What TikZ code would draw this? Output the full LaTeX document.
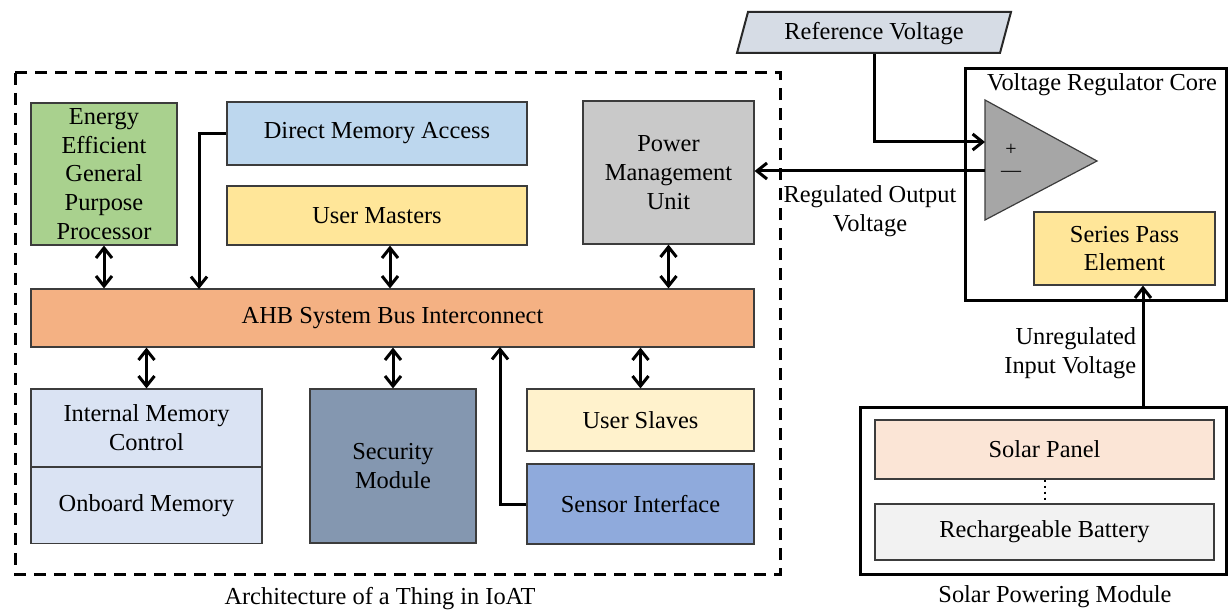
\documentclass[tikz,border=0pt]{standalone}
\usepackage{fontspec}
\setmainfont{Liberation Serif}
\usetikzlibrary{arrows.meta}

\tikzset{
  blk/.style={draw={rgb,255:red,60;green,60;blue,60}, line width=0.6pt, inner sep=0pt, align=center, font=\fontsize{12.2}{14.4}\selectfont},
  conn/.style={line width=1.5pt, {Straight Barb[length=5pt,width=8pt]}-{Straight Barb[length=5pt,width=8pt]}},
  feed/.style={line width=1.5pt, -{Straight Barb[length=5pt,width=8pt]}},
  lbl/.style={inner sep=0.75pt, align=center, font=\fontsize{12.2}{14.4}\selectfont},
}

\begin{document}
\begin{tikzpicture}[x=0.5pt,y=0.5pt,yscale=-1,xscale=1]
\path[use as bounding box] (0,0) rectangle (1228,610);

%Dashed frame of the thing
\draw [line width=1.5pt, dash pattern=on 6pt off 4pt] (15,73) rectangle (780,574);

% Blocks of the thing
\node [blk, fill={rgb,255:red,169;green,209;blue,142}, minimum width=73pt, minimum height=71pt] (gpp) at (104,174) {Energy\\Efficient\\General\\Purpose\\Processor};
\node [blk, fill={rgb,255:red,189;green,215;blue,238}, minimum width=150pt, minimum height=31.5pt] (dma) at (377,133.5) {Direct Memory Access};
\node [blk, fill={rgb,255:red,255;green,230;blue,153}, minimum width=150pt, minimum height=29.5pt] (um) at (377,215.5) {User Masters};
\node [blk, fill={rgb,255:red,201;green,201;blue,201}, minimum width=85.5pt, minimum height=71.5pt] (pmu) at (668.5,172.5) {Power\\Management\\Unit};
\node [blk, fill={rgb,255:red,244;green,177;blue,131}, minimum width=361.5pt, minimum height=29pt] (bus) at (392.5,318) {AHB System Bus Interconnect};
\node [blk, fill={rgb,255:red,218;green,227;blue,243}, minimum width=115.5pt, minimum height=39pt] (imc) at (146.5,428) {Internal Memory\\Control};
\node [blk, fill={rgb,255:red,218;green,227;blue,243}, minimum width=115.5pt, minimum height=38pt] (obm) at (146.5,505.5) {Onboard Memory};
\node [blk, fill={rgb,255:red,132;green,151;blue,176}, minimum width=83pt, minimum height=77pt] (sec) at (393,466) {Security\\Module};
\node [blk, fill={rgb,255:red,255;green,242;blue,204}, minimum width=113.5pt, minimum height=31pt] (usl) at (640.5,420) {User Slaves};
\node [blk, fill={rgb,255:red,143;green,170;blue,220}, minimum width=113.5pt, minimum height=40pt] (sens) at (640.5,504) {Sensor Interface};

% Text Node
\node [lbl] (cap1) at (380,599) {Architecture of a Thing in IoAT};

% Bus connections
\draw [conn] (gpp.south) -- (gpp.south |- bus.north);
\coordinate (dmain) at (199,289);
\draw [feed] (dma.west) -| (dmain);
\draw [conn] ([xshift=6.5pt]um.south) -- ([xshift=6.5pt]um.south |- bus.north);
\draw [conn] (pmu.south) -- (pmu.south |- bus.north);
\draw [conn] (imc.north) -- (imc.north |- bus.south);
\draw [conn] (sec.north) -- (sec.north |- bus.south);
\draw [conn] (usl.north) -- (usl.north |- bus.south);
\coordinate (sensin) at (500,347);
\draw [feed] (sens.west) -| (sensin);

%Reference voltage input
\draw [draw={rgb,255:red,40;green,40;blue,40}, line width=1pt, fill={rgb,255:red,214;green,220;blue,229}] (737,53) -- (748,12) -- (1011,12) -- (1000,53) -- cycle;
\node [lbl, minimum height=20.5pt] (ref) at (874,33.5) {Reference Voltage};

%Voltage regulator core
\node [draw, line width=1.5pt, minimum width=130.5pt, minimum height=116pt] (core) at (1095.5,185) {};
\node [lbl] (corelbl) at (1102,85) {Voltage Regulator Core};
\draw [draw={rgb,255:red,60;green,60;blue,60}, line width=0.6pt, fill={rgb,255:red,166;green,166;blue,166}] (985,100) -- (1097,161) -- (985,220) -- cycle;
\coordinate (opplus) at (985,142);
\coordinate (opminus) at (985,171);
\node [inner sep=0pt, font=\fontsize{10}{10}\selectfont] (plus) at (1011,150) {+};
\node [inner sep=0pt, font=\fontsize{10}{10}\selectfont] (minus) at (1011,174) {\textemdash};
\node [blk, fill={rgb,255:red,255;green,230;blue,153}, minimum width=90.5pt, minimum height=36.5pt] (spe) at (1124.5,248.5) {Series Pass\\Element};

\draw [feed] (ref.south) |- (opplus);
\draw [feed] (opminus) -- (pmu.east |- opminus);
\node [lbl] (reglbl) at (870,211.5) {Regulated Output\\Voltage};

%Solar powering module
\node [draw, line width=1.5pt, minimum width=183pt, minimum height=83.5pt] (solar) at (1043,490.5) {};
\node [blk, fill={rgb,255:red,251;green,229;blue,214}, minimum width=169.5pt, minimum height=29.5pt] (panel) at (1044.5,449.5) {Solar Panel};
\node [blk, fill={rgb,255:red,242;green,242;blue,242}, minimum width=169.5pt, minimum height=28pt] (batt) at (1044.5,532) {Rechargeable Battery};
\draw [line width=1pt, dotted] (panel.south) -- (batt.north);
\node [lbl] (cap2) at (1055,597) {Solar Powering Module};

\coordinate (unreg) at (1143,407);
\draw [feed] (unreg) -- (unreg |- spe.south);
\node [lbl, anchor=east, align=right] (unreglbl) at (1138,353) {Unregulated\\Input Voltage};

\end{tikzpicture}
\end{document}
